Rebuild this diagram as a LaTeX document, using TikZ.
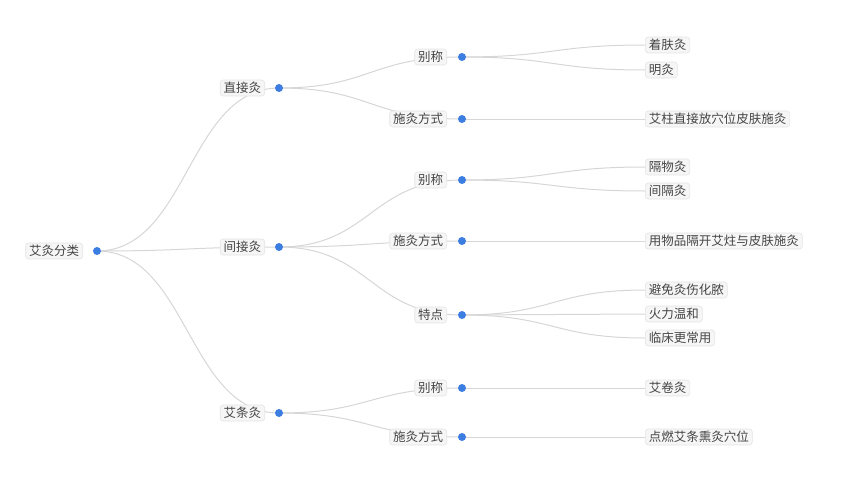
\documentclass[tikz,border=0pt]{standalone}
\usepackage{fontspec}
\setmainfont{Noto Sans CJK SC}
\usetikzlibrary{calc,backgrounds}
\definecolor{linkc}{HTML}{D6D6D6}
\definecolor{boxfill}{HTML}{F6F6F6}
\definecolor{boxline}{HTML}{E4E4E4}
\definecolor{txt}{HTML}{454545}
\definecolor{dotc}{HTML}{3B7DE0}
\tikzset{
  box/.style={draw=boxline, fill=boxfill, rounded corners=3pt, line width=0.6pt,
    text=txt, font=\fontsize{12.5}{14}\selectfont, inner xsep=3.5pt, inner ysep=0pt,
    minimum height=16pt},
  link/.style={draw=linkc, line width=1pt},
  dotn/.style={circle, fill=dotc, inner sep=0pt, minimum size=8pt}
}
\newcommand\lnk[2]{\coordinate (mid) at ($(#1)!.5!(#2)$);
  \draw[link] (#1) .. controls (mid |- #1) and (mid |- #2) .. (#2);}
\begin{document}
\begin{tikzpicture}[x=1pt,y=-1pt]
\useasboundingbox (0,0) rectangle (853,479);
% inner nodes
\node[box, anchor=east] (r) at (83,251) {艾灸分类};
\node[box, anchor=east] (a) at (265,88) {直接灸};
\node[box, anchor=east] (b) at (265,247) {间接灸};
\node[box, anchor=east] (c) at (265,413) {艾条灸};
\node[box, anchor=east] (a1) at (447,57) {别称};
\node[box, anchor=east] (a2) at (447,119) {施灸方式};
\node[box, anchor=east] (b1) at (447,180) {别称};
\node[box, anchor=east] (b2) at (447,241) {施灸方式};
\node[box, anchor=east] (b3) at (447,315) {特点};
\node[box, anchor=east] (c1) at (447,388) {别称};
\node[box, anchor=east] (c2) at (447,437) {施灸方式};
% leaves
\node[box, anchor=west] (a11) at (645,45) {着肤灸};
\node[box, anchor=west] (a12) at (645,70) {明灸};
\node[box, anchor=west] (a21) at (645,119) {艾柱直接放穴位皮肤施灸};
\node[box, anchor=west] (b11) at (645,167) {隔物灸};
\node[box, anchor=west] (b12) at (645,191) {间隔灸};
\node[box, anchor=west] (b21) at (645,241) {用物品隔开艾炷与皮肤施灸};
\node[box, anchor=west] (b31) at (645,290) {避免灸伤化脓};
\node[box, anchor=west] (b32) at (645,314) {火力温和};
\node[box, anchor=west] (b33) at (645,338) {临床更常用};
\node[box, anchor=west] (c11) at (645,388) {艾卷灸};
\node[box, anchor=west] (c21) at (645,437) {点燃艾条熏灸穴位};
% dots
\node[dotn] (rd) at (97,251) {};
\node[dotn] (ad) at (279,88) {};
\node[dotn] (bd) at (279,247) {};
\node[dotn] (cd) at (279,413) {};
\node[dotn] (a1d) at (462,57) {};
\node[dotn] (a2d) at (462,119) {};
\node[dotn] (b1d) at (462,180) {};
\node[dotn] (b2d) at (462,241) {};
\node[dotn] (b3d) at (462,315) {};
\node[dotn] (c1d) at (462,388) {};
\node[dotn] (c2d) at (462,437) {};
% links, behind the boxes
\begin{pgfonlayer}{background}
\lnk{rd.center}{ad.center}
\lnk{rd.center}{bd.center}
\lnk{rd.center}{cd.center}
\lnk{ad.center}{a1d.center}
\lnk{ad.center}{a2d.center}
\lnk{bd.center}{b1d.center}
\lnk{bd.center}{b2d.center}
\lnk{bd.center}{b3d.center}
\lnk{cd.center}{c1d.center}
\lnk{cd.center}{c2d.center}
\lnk{a1d.center}{a11.west}
\lnk{a1d.center}{a12.west}
\lnk{a2d.center}{a21.west}
\lnk{b1d.center}{b11.west}
\lnk{b1d.center}{b12.west}
\lnk{b2d.center}{b21.west}
\lnk{b3d.center}{b31.west}
\lnk{b3d.center}{b32.west}
\lnk{b3d.center}{b33.west}
\lnk{c1d.center}{c11.west}
\lnk{c2d.center}{c21.west}
\end{pgfonlayer}
\end{tikzpicture}
\end{document}
